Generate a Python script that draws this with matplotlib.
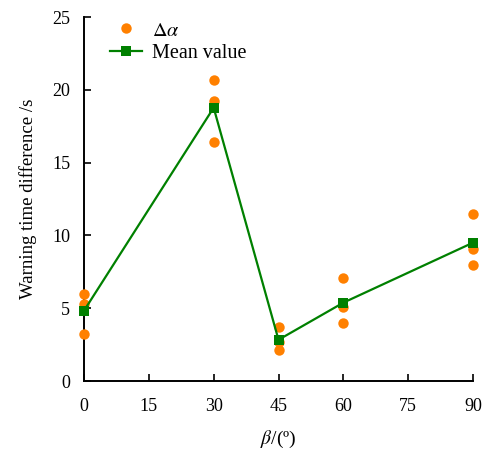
import matplotlib
matplotlib.use("Agg")
import matplotlib.pyplot as plt

plt.rcParams['font.family'] = ['Liberation Serif', 'DejaVu Serif']
plt.rcParams['mathtext.fontset'] = 'stix'

beta = [0, 30, 45, 60, 90]
delta_alpha = [
    [6.0, 5.3, 3.2],
    [20.7, 19.2, 16.4],
    [3.7, 2.7, 2.1],
    [7.05, 5.1, 4.0],
    [11.5, 9.1, 7.95],
]
mean_value = [4.83, 18.77, 2.83, 5.38, 9.5]

xticks = [0, 15, 30, 45, 60, 75, 90]
yticks = [0, 5, 10, 15, 20, 25]

fig = plt.figure(figsize=(4.88, 4.5), dpi=100)
ax = fig.add_axes([84/488, 1-381/450, 389/488, 364/450])

xs, ys = [], []
for b, vals in zip(beta, delta_alpha):
    for v in vals:
        xs.append(b); ys.append(v)
ax.plot(xs, ys, 'o', color='#FF8000', markersize=7.5, markeredgewidth=0,
        label=r'$\Delta\alpha$', clip_on=False, zorder=3)
ax.plot(beta, mean_value, '-s', color='#008000', markersize=7, linewidth=1.6,
        markeredgewidth=0, label='Mean value', clip_on=False, zorder=4)

ax.set_xlim(0, 90)
ax.set_ylim(0, 25)
ax.set_xticks(xticks)
ax.set_yticks(yticks)
ax.tick_params(direction='in', labelsize=13, length=5, width=1.2)
ax.tick_params(axis='x', pad=12)
ax.tick_params(axis='y', pad=10)
for s in ['top', 'right']:
    ax.spines[s].set_visible(False)
for s in ['left', 'bottom']:
    ax.spines[s].set_linewidth(1.4)

ax.set_xlabel(r'$\beta$/(º)', fontsize=14, labelpad=10)
ax.set_ylabel('Warning time difference /s', fontsize=13.5, labelpad=11)

leg = ax.legend(loc='upper left', bbox_to_anchor=(0.045, 1.01), frameon=False,
                fontsize=14.5, handlelength=1.6, handletextpad=0.5,
                labelspacing=0.15, borderaxespad=0)

fig.savefig('out.png', dpi=100)
